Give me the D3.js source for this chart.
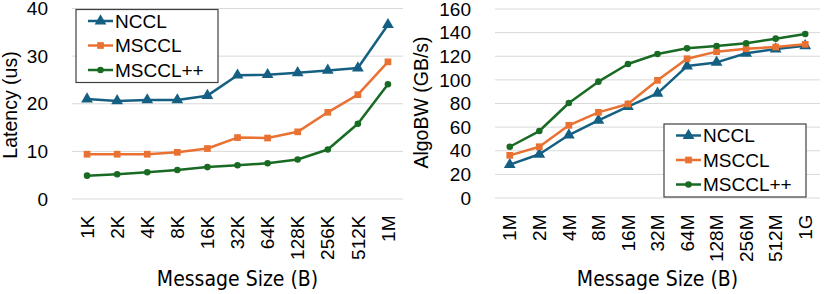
<!DOCTYPE html>
<html>
<head>
<meta charset="utf-8">
<script src="https://cdn.jsdelivr.net/npm/d3@7"></script>
<style>
  body { margin: 0; background: #fff; }
  text { font-family: "Liberation Sans", Arial, sans-serif; fill: #000; }
  .title { font-family: "Liberation Sans Narrow", "DejaVu Sans", sans-serif; font-stretch: condensed; }
</style>
</head>
<body>
<script>
// latency chart (left)
const latSizes = ['1K', '2K', '4K', '8K', '16K', '32K', '64K', '128K', '256K', '512K', '1M'];
const latNccl = [21.0, 20.6, 20.8, 20.8, 21.7, 26.0, 26.1, 26.5, 27.0, 27.5, 36.6];
const latMsccl = [9.4, 9.4, 9.4, 9.8, 10.6, 12.9, 12.8, 14.1, 18.2, 21.9, 28.8];
const latMscclpp = [4.9, 5.2, 5.6, 6.1, 6.7, 7.1, 7.5, 8.3, 10.4, 15.8, 24.1];
const latTicks = [0, 10, 20, 30, 40];

// algo bandwidth chart (right)
const bwSizes = ['1M', '2M', '4M', '8M', '16M', '32M', '64M', '128M', '256M', '512M', '1G'];
const bwNccl = [28.2, 37.0, 53.3, 65.8, 77.3, 88.6, 111.7, 114.8, 122.5, 126.1, 128.9];
const bwMsccl = [36.1, 43.4, 61.5, 72.5, 79.6, 99.6, 117.9, 123.9, 126.4, 127.8, 130.1];
const bwMscclpp = [43.4, 56.7, 80.4, 98.5, 113.4, 121.9, 126.7, 128.7, 131.0, 134.9, 138.8];
const bwTicks = [0, 20, 40, 60, 80, 100, 120, 140, 160];

const names = ['NCCL', 'MSCCL', 'MSCCL++'];
const colors = ['#156082', '#E97132', '#196B24'];
const symbols = [d3.symbolTriangle, d3.symbolSquare, d3.symbolCircle];
const symSizes = [60, 45, 34];

var svg = d3.select('body').append('svg')
    .attr('width', 831)
    .attr('height', 294);

function drawChart(opt) {
    var x = d3.scaleBand().domain(opt.sizes).range([opt.left, opt.right]);
    var y = d3.scaleLinear().domain([0, opt.max]).range([opt.bottom, opt.top]);
    var g = svg.append('g');

    // gridlines
    g.selectAll('.grid')
        .data(opt.ticks)
        .join('line')
        .attr('x1', opt.left).attr('x2', opt.right)
        .attr('y1', d => y(d)).attr('y2', d => y(d))
        .attr('stroke', '#d9d9d9').attr('stroke-width', 1);

    // y axis tick labels
    g.selectAll('.ylab')
        .data(opt.ticks)
        .join('text')
        .attr('x', opt.left - 24)
        .attr('y', d => y(d))
        .attr('dy', '0.35em')
        .attr('text-anchor', 'end')
        .attr('font-size', 19)
        .text(d => d);

    // x axis tick labels, rotated, top aligned
    g.selectAll('.xlab')
        .data(opt.sizes)
        .join('text')
        .attr('transform', d => 'translate(' + (x(d) + x.bandwidth() / 2) + ',' + (opt.bottom + 16.5) + ') rotate(-90)')
        .attr('dy', '0.35em')
        .attr('text-anchor', 'end')
        .attr('font-size', 19)
        .text(d => d);

    g.append('text')
        .attr('class', 'title')
        .attr('x', (opt.left + opt.right) / 2)
        .attr('y', 286)
        .attr('text-anchor', 'middle')
        .attr('font-size', 21)
        .text('Message Size (B)');

    g.append('text')
        .attr('transform', 'translate(' + opt.ytitleX + ',' + opt.ytitleY + ') rotate(-90)')
        .attr('text-anchor', 'middle')
        .attr('font-size', 19.5)
        .text(opt.ytitle);

    var line = d3.line()
        .x((d, i) => x(opt.sizes[i]) + x.bandwidth() / 2)
        .y(d => y(d));

    opt.series.forEach(function(vals, k) {
        g.append('path')
            .datum(vals)
            .attr('d', line)
            .attr('fill', 'none')
            .attr('stroke', colors[k])
            .attr('stroke-width', 2.5)
            .attr('stroke-linejoin', 'round');
        g.selectAll('.pt' + k)
            .data(vals)
            .join('path')
            .attr('transform', (d, i) => 'translate(' + (x(opt.sizes[i]) + x.bandwidth() / 2) + ',' + y(d) + ')')
            .attr('d', d3.symbol().type(symbols[k]).size(symSizes[k]))
            .attr('fill', colors[k]);
    });

    // legend
    var lg = g.append('g').attr('transform', 'translate(' + opt.legX + ',' + opt.legY + ')');
    lg.append('rect')
        .attr('width', 142).attr('height', 73)
        .attr('fill', '#fff').attr('stroke', '#404040').attr('stroke-width', 1.2);
    names.forEach(function(n, k) {
        var cy = 11.5 + k * 24.5;
        lg.append('line')
            .attr('x1', 12).attr('x2', 37).attr('y1', cy).attr('y2', cy)
            .attr('stroke', colors[k]).attr('stroke-width', 2.5);
        lg.append('path')
            .attr('transform', 'translate(24.5,' + cy + ')')
            .attr('d', d3.symbol().type(symbols[k]).size(symSizes[k]))
            .attr('fill', colors[k]);
        lg.append('text')
            .attr('x', 39).attr('y', cy)
            .attr('dy', '0.35em')
            .attr('font-size', 19)
            .text(n);
    });
}

drawChart({
    sizes: latSizes, series: [latNccl, latMsccl, latMscclpp],
    ticks: latTicks, max: 40,
    left: 72, right: 403, top: 8.5, bottom: 199,
    ytitle: 'Latency (us)', ytitleX: 17, ytitleY: 105,
    legX: 76, legY: 9.5
});

drawChart({
    sizes: bwSizes, series: [bwNccl, bwMsccl, bwMscclpp],
    ticks: bwTicks, max: 160,
    left: 495, right: 820, top: 9, bottom: 198,
    ytitle: 'AlgoBW (GB/s)', ytitleX: 428, ytitleY: 102.5,
    legX: 664, legY: 124
});
</script>
</body>
</html>
